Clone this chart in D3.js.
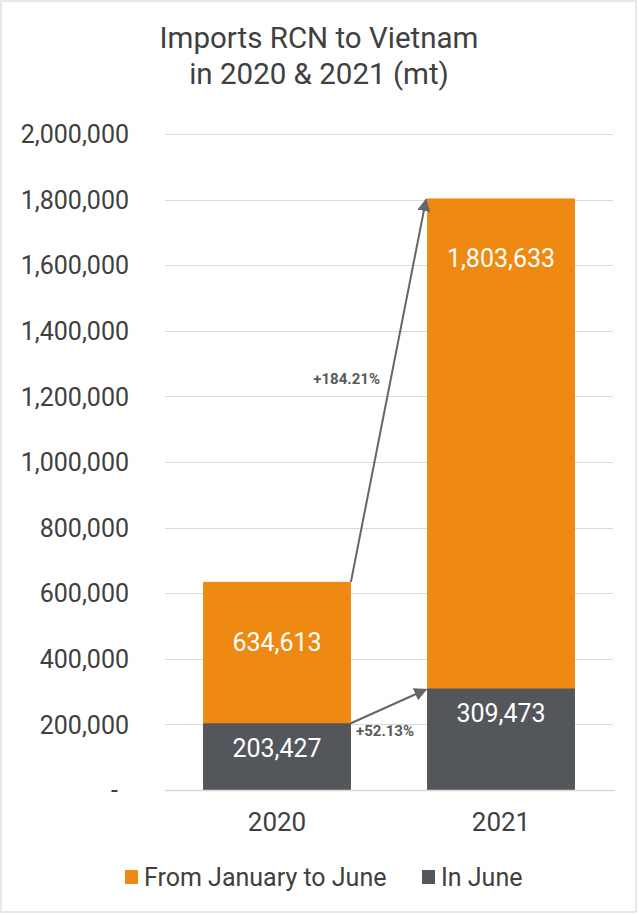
<!DOCTYPE html>
<html>
<head>
<meta charset="utf-8">
<script src="https://cdn.jsdelivr.net/npm/d3@7"></script>
<style>
  html, body { margin: 0; padding: 0; background: #fff; }
  svg { display: block; font-family: Roboto, "Noto Sans", sans-serif; }
</style>
</head>
<body>
<svg id="chart" width="639" height="915"></svg>
<script>
const titleLines = ["Imports RCN to Vietnam", "in 2020 & 2021 (mt)"];
const categories = ["2020", "2021"];
const janToJune = [634613, 1803633];
const inJune = [203427, 309473];
const seriesNames = ["From January to June", "In June"];
const yTicks = [0, 200000, 400000, 600000, 800000, 1000000, 1200000, 1400000, 1600000, 1800000, 2000000];
const growthLabels = ["+184.21%", "+52.13%"];

const colors = { jan: "#EE8A12", jun: "#53565B", text: "#404040", grid: "#D9D9D9", arrow: "#666666" };

const svg = d3.select("#chart");
const W = 639, H = 915;

// border
svg.append("rect").attr("x", 1).attr("y", 1).attr("width", W - 4).attr("height", H - 4)
  .attr("fill", "#fff").attr("stroke", "#D9D9D9").attr("stroke-width", 1.2);

// title
svg.append("text").attr("text-anchor", "middle").attr("fill", colors.text)
  .attr("font-size", 29.5)
  .selectAll("tspan").data(titleLines).join("tspan")
  .attr("x", 319).attr("y", (d, i) => 48 + i * 36).text(d => d);

const x = d3.scaleBand().domain(categories).range([165, 613]).paddingInner(0.34).paddingOuter(0.17);
const y = d3.scaleLinear().domain([0, 2000000]).range([790, 134]);

// gridlines
svg.append("g").selectAll("line").data(yTicks.filter(d => d > 0)).join("line")
  .attr("x1", 165).attr("x2", 613)
  .attr("y1", d => Math.round(y(d)) + 0.5).attr("y2", d => Math.round(y(d)) + 0.5)
  .attr("stroke", colors.grid).attr("stroke-width", 1.2);

// y axis labels
const yAxis = d3.axisLeft(y).tickValues(yTicks).tickSize(0).tickPadding(0)
  .tickFormat(d => d === 0 ? "-" : d3.format(",")(d));
const gy = svg.append("g").attr("transform", "translate(129,0)").call(yAxis);
gy.select(".domain").remove();
gy.selectAll("text").attr("font-size", 25).attr("fill", colors.text)
  .attr("font-family", "Roboto, sans-serif").attr("dy", "0.35em");
gy.selectAll(".tick").filter(d => d === 0).select("text").attr("dx", -11);

// bars
const data = categories.map((c, i) => ({ c, jan: janToJune[i], jun: inJune[i] }));
svg.append("g").selectAll("rect").data(data).join("rect")
  .attr("x", d => x(d.c)).attr("width", x.bandwidth())
  .attr("y", d => y(d.jan)).attr("height", d => y(0) - y(d.jan))
  .attr("fill", colors.jan);
svg.append("g").selectAll("rect").data(data).join("rect")
  .attr("x", d => x(d.c)).attr("width", x.bandwidth())
  .attr("y", d => y(d.jun)).attr("height", d => y(0) - y(d.jun))
  .attr("fill", colors.jun);

// axis baseline
svg.append("line").attr("x1", 165).attr("x2", 615).attr("y1", y(0) + 0.5).attr("y2", y(0) + 0.5)
  .attr("stroke", colors.grid).attr("stroke-width", 1.5);

// bar value labels
const fmt = d3.format(",");
svg.append("g").selectAll("text").data(data).join("text")
  .attr("x", d => x(d.c) + x.bandwidth() / 2).attr("y", d => y(d.jan) + 60)
  .attr("dy", "0.35em").attr("text-anchor", "middle").attr("fill", "#fff")
  .attr("font-size", 25).text(d => fmt(d.jan));
svg.append("g").selectAll("text").data(data).join("text")
  .attr("x", d => x(d.c) + x.bandwidth() / 2).attr("y", d => y(d.jun) + 25)
  .attr("dy", "0.35em").attr("text-anchor", "middle").attr("fill", "#fff")
  .attr("font-size", 25).text(d => fmt(d.jun));

// x axis labels
const gx = svg.append("g").attr("transform", `translate(0,${y(0)})`)
  .call(d3.axisBottom(x).tickSize(0).tickPadding(23));
gx.select(".domain").remove();
gx.selectAll("text").attr("font-size", 26).attr("fill", colors.text)
  .attr("font-family", "Roboto, sans-serif");

// arrows
const defs = svg.append("defs");
defs.append("marker").attr("id", "arr").attr("viewBox", "0 0 10 10")
  .attr("refX", 9).attr("refY", 5).attr("markerWidth", 6.5).attr("markerHeight", 6.5)
  .attr("markerUnits", "strokeWidth").attr("orient", "auto")
  .append("path").attr("d", "M0,0 L10,5 L0,10 z").attr("fill", colors.arrow);

const x0 = x("2020") + x.bandwidth();
const x1 = x("2021");
const arrows = [
  { y0: y(janToJune[0]), y1: y(janToJune[1]) },
  { y0: y(inJune[0]), y1: y(inJune[1]) }
];
svg.append("g").selectAll("line").data(arrows).join("line")
  .attr("x1", x0).attr("y1", d => d.y0).attr("x2", x1 - 1).attr("y2", d => d.y1 + 1)
  .attr("stroke", colors.arrow).attr("stroke-width", 2).attr("marker-end", "url(#arr)");

svg.append("text").attr("x", 380).attr("y", 379).attr("dy", "0.35em").attr("text-anchor", "end")
  .attr("font-size", 15).attr("font-weight", "bold").attr("fill", "#595959").text(growthLabels[0]);
svg.append("text").attr("x", 356).attr("y", 731).attr("dy", "0.35em").attr("text-anchor", "start")
  .attr("font-size", 15).attr("font-weight", "bold").attr("fill", "#595959").text(growthLabels[1]);

// legend
const legend = [
  { name: seriesNames[0], color: colors.jan, x: 125 },
  { name: seriesNames[1], color: colors.jun, x: 422 }
];
const lg = svg.append("g").selectAll("g").data(legend).join("g")
  .attr("transform", d => `translate(${d.x},877)`);
lg.append("rect").attr("x", 0).attr("y", -7).attr("width", 13).attr("height", 14).attr("fill", d => d.color);
lg.append("text").attr("x", 19).attr("y", 0).attr("dy", "0.35em").attr("font-size", 25)
  .attr("fill", colors.text).text(d => d.name);
</script>
</body>
</html>
